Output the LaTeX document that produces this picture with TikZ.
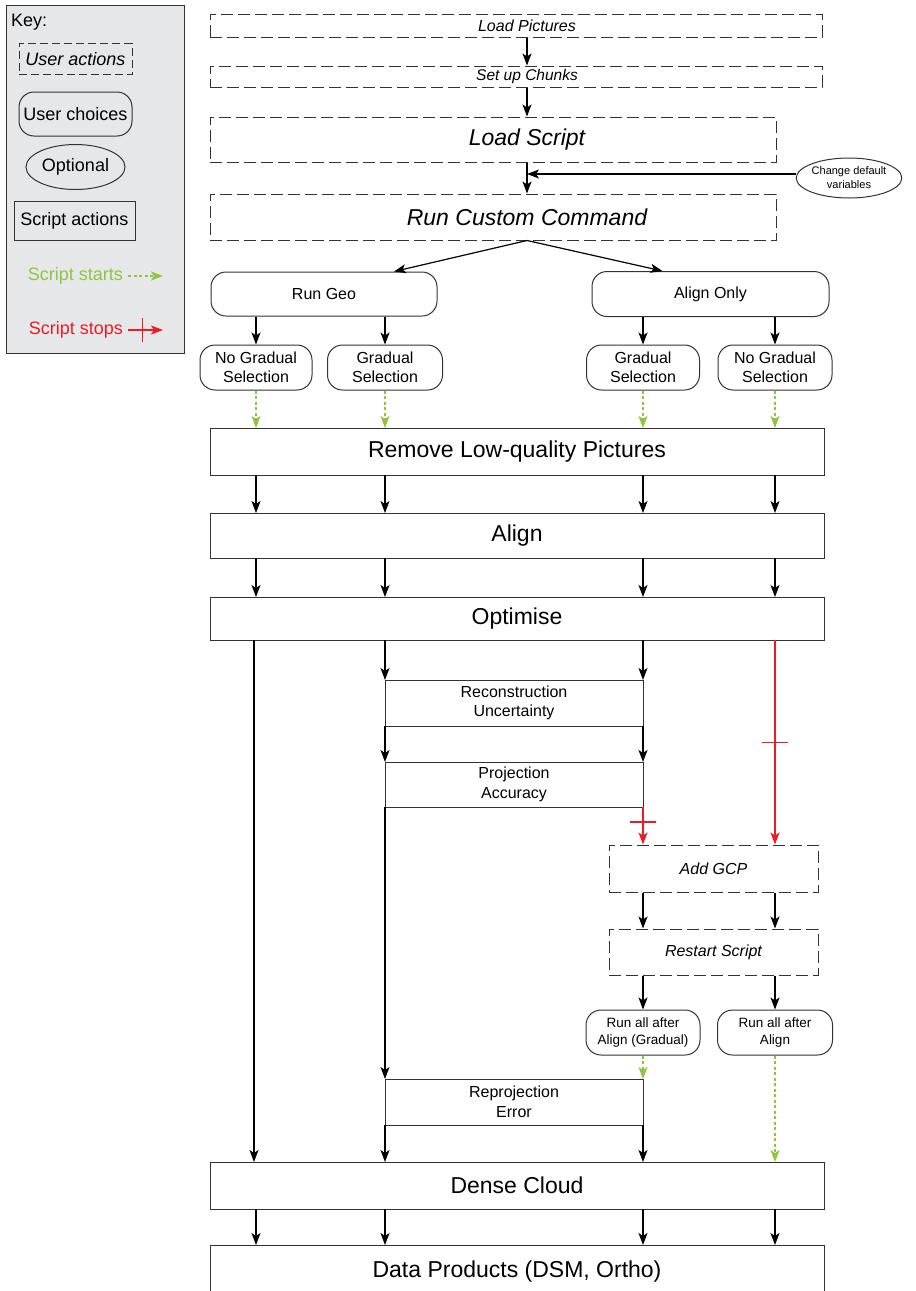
\documentclass[tikz,border=0pt]{standalone}
\usepackage{fontspec}
\setmainfont{Liberation Sans}
\usetikzlibrary{arrows.meta,shapes.geometric}
\definecolor{startGreen}{RGB}{141,198,63}
\definecolor{stopRed}{RGB}{237,28,36}
\definecolor{keyGrey}{RGB}{230,231,232}

\begin{document}
\begin{tikzpicture}
      [ x=1pt, y=-1pt
      , userAction/.style={draw=black!80, line width=1pt, dash pattern=on 12pt off 5pt, inner sep=0pt}
      , userChoice/.style={draw=black!80, line width=1pt, rounded corners=15pt, inner sep=0pt, align=center}
      , optional/.style={draw=black!80, line width=1pt, ellipse, inner sep=0pt, align=center}
      , scriptAction/.style={draw=black!80, line width=1pt, inner sep=0pt, outer sep=0pt, align=center}
      , bigText/.style={font=\fontsize{23}{27}\selectfont}
      , midText/.style={font=\fontsize{16}{19.5}\selectfont}
      , smallText/.style={font=\fontsize{13.5}{17}\selectfont}
      , keyText/.style={font=\fontsize{18}{21}\selectfont}
      , flow/.style={black, line width=1.2pt, -{Stealth[length=12pt,width=9pt,inset=3pt]}}
      , scriptStarts/.style={startGreen, line width=1.3pt, dash pattern=on 3pt off 2.5pt, -{Stealth[length=12pt,width=9pt,inset=3pt]}}
      , scriptStops/.style={stopRed, line width=1.3pt, -{Stealth[length=12pt,width=9pt,inset=3pt]}}
      , stopBar/.style={draw=stopRed, line width=1.3pt, inner sep=0pt, minimum height=0pt, minimum width=26pt}
      ]
    \useasboundingbox (0,0) rectangle (916,1291);

    % key
    \node[fill=keyGrey, draw=black!80, line width=1pt, minimum width=178, minimum height=348] (K) at (95,179) {};
    \node[keyText, anchor=west, inner sep=0pt] (KT) at (11,22) {Key:};
    \node[userAction, dash pattern=on 8pt off 4pt, keyText, minimum width=113, minimum height=31] (KUA) at (75.5,59) {\itshape User actions};
    \node[userChoice, keyText, minimum width=113, minimum height=44] (KUC) at (75.5,114) {User choices};
    \node[optional, keyText, minimum width=99, minimum height=45] (KO) at (75.5,167) {Optional};
    \node[scriptAction, keyText, minimum width=121, minimum height=39] (KSA) at (74.5,221) {Script actions};
    \node[keyText, startGreen, anchor=east, inner sep=0pt] (KSS) at (123,276) {Script starts};
    \node[keyText, stopRed, anchor=east, inner sep=0pt] (KST) at (123,330) {Script stops};
    \coordinate (KSSend) at (163,276);
    \coordinate (KSTend) at (163,330);
    \draw[scriptStarts] ([xshift=5pt]KSS.east) -- (KSSend);
    \draw[scriptStops] ([xshift=5pt]KST.east) -- node[stopBar, pos=.42, minimum width=0pt, minimum height=24pt]{} (KSTend);

    % user actions
    \node[userAction, minimum width=612, minimum height=23] (LP) at (516,25.5) {};
    \node[midText] (LPL) at (527,25.5) {\itshape Load Pictures};
    \node[userAction, minimum width=612, minimum height=21] (SUC) at (516,76.5) {};
    \node[font=\fontsize{15.5}{18}\selectfont] (SUCL) at (527,76.5) {\itshape Set up Chunks};
    \node[userAction, minimum width=566, minimum height=45] (LS) at (493,139.5) {};
    \node[bigText] (LSL) at (527,139.5) {\itshape Load Script};
    \node[userAction, minimum width=566, minimum height=46] (RCC) at (493,217) {};
    \node[bigText] (RCCL) at (527,217) {\itshape Run Custom Command};
    \node[optional, font=\fontsize{11}{14}\selectfont, minimum width=82, minimum height=40] (CDV) at (849,178) {Change default\\variables};

    % choices
    \node[userChoice, midText, minimum width=226, minimum height=44] (RG) at (324,294) {Run Geo};
    \node[userChoice, midText, minimum width=237, minimum height=45] (AO) at (710.5,294) {Align Only};
    \node[userChoice, midText, minimum width=112, minimum height=45] (NGL) at (256,367.5) {No Gradual\\Selection};
    \node[userChoice, midText, minimum width=115, minimum height=45] (GL) at (385,367.5) {Gradual\\Selection};
    \node[userChoice, midText, minimum width=113, minimum height=45] (GR) at (643,367.5) {Gradual\\Selection};
    \node[userChoice, midText, minimum width=114, minimum height=45] (NGR) at (775,367.5) {No Gradual\\Selection};

    % script actions
    \node[scriptAction, bigText, minimum width=614, minimum height=47] (RLQ) at (517,451.5) {Remove Low-quality Pictures};
    \node[scriptAction, bigText, minimum width=614, minimum height=45] (AL) at (517,535.5) {Align};
    \node[scriptAction, bigText, minimum width=614, minimum height=43] (OPT) at (517,618.5) {Optimise};
    \node[scriptAction, midText, minimum width=258, minimum height=46] (RU) at (514,703) {Reconstruction\\Uncertainty};
    \node[scriptAction, midText, minimum width=258, minimum height=45] (PA) at (514,784.5) {Projection\\Accuracy};
    \node[userAction, minimum width=209, minimum height=47, midText] (GCP) at (713.5,868.5) {\itshape Add GCP};
    \node[userAction, minimum width=209, minimum height=46, midText] (RS) at (713.5,952) {\itshape Restart Script};
    \node[userChoice, smallText, minimum width=114, minimum height=45] (RAG) at (643,1032.5) {Run all after\\Align (Gradual)};
    \node[userChoice, smallText, minimum width=115, minimum height=45] (RA) at (775,1032.5) {Run all after\\Align};
    \node[scriptAction, midText, minimum width=258, minimum height=46] (RE) at (514,1102) {Reprojection\\Error};
    \node[scriptAction, bigText, minimum width=614, minimum height=47] (DC) at (517,1185.5) {Dense Cloud};
    \node[scriptAction, bigText, minimum width=614, minimum height=52, text depth=4pt] (DP) at (517,1271) {Data Products (DSM, Ortho)};

    \path[flow]
    (LPL |- LP.south) edge (LPL |- SUC.north)
    (SUCL |- SUC.south) edge (SUCL |- LS.north)
    (LSL |- LS.south) edge (LSL |- RCC.north)
    ([yshift=4pt]CDV.west) edge ([yshift=4pt]CDV.west -| LSL)

    (RCCL |- RCC.south) edge ([xshift=70pt]RG.north)
    (RCCL |- RCC.south) edge ([xshift=-48pt]AO.north)

    (RG.south -| NGL) edge (NGL.north)
    (RG.south -| GL) edge (GL.north)
    (AO.south -| GR) edge (GR.north)
    (AO.south -| NGR) edge (NGR.north);

    \path[scriptStarts]
    (NGL.south) edge (NGL |- RLQ.north)
    (GL.south) edge (GL |- RLQ.north)
    (GR.south) edge (GR |- RLQ.north)
    (NGR.south) edge (NGR |- RLQ.north);

    \foreach \c in {NGL, GL, GR, NGR} {
      \draw[flow] (RLQ.south -| \c) -- (\c |- AL.north);
      \draw[flow] (AL.south -| \c) -- (\c |- OPT.north);
      \draw[flow] (DC.south -| \c) -- (\c |- DP.north);
    }

    \path[flow]
    ([xshift=-2pt]OPT.south -| NGL) edge ([xshift=-2pt]NGL |- DC.north)
    (OPT.south -| RU.north west) edge (RU.north west)
    (RU.south west) edge (PA.north west)
    (PA.south west) edge (RE.north west)
    (RE.south west) edge (RE.south west |- DC.north)
    (OPT.south -| RU.north east) edge (RU.north east)
    (RU.south east) edge (PA.north east)
    (RE.south east) edge (RE.south east |- DC.north)

    (GCP.south -| RAG) edge (RAG |- RS.north)
    (GCP.south -| RA) edge (RA |- RS.north)
    (RS.south -| RAG) edge (RAG.north)
    (RS.south -| RA) edge (RA.north);

    \path[scriptStops]
    (PA.south east) edge node[stopBar, pos=.4]{} (GCP.north -| PA.south east)
    (OPT.south -| RA) edge node[stopBar, pos=.5]{} (RA |- GCP.north);

    \path[scriptStarts]
    (RE.north east |- RAG.south) edge (RE.north east)
    (RA.south) edge (RA |- DC.north);

  \end{tikzpicture}
\end{document}
